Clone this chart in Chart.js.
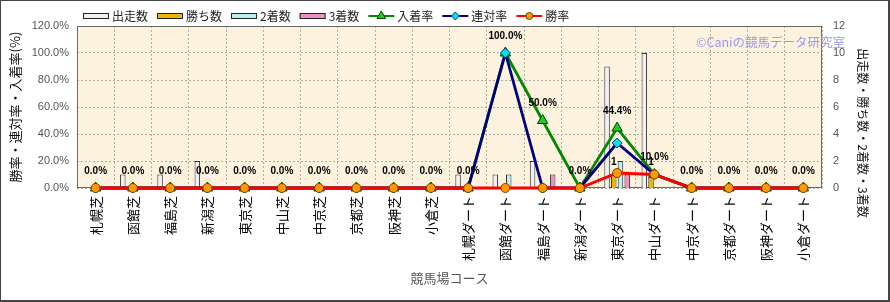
<!DOCTYPE html>
<html>
<head>
<meta charset="utf-8">
<script src="https://cdn.jsdelivr.net/npm/chart.js@4/dist/chart.umd.min.js"></script>
<style>
  html, body { margin: 0; padding: 0; background: #fff; }
  canvas { display: block; }
</style>
</head>
<body>
<canvas id="chart" width="890" height="302"></canvas>
<script>
// ── Data ──────────────────────────────────────────────────
const categories = ['札幌芝', '函館芝', '福島芝', '新潟芝', '東京芝', '中山芝', '中京芝', '京都芝', '阪神芝', '小倉芝',
                    '札幌ダート', '函館ダート', '福島ダート', '新潟ダート', '東京ダート', '中山ダート', '中京ダート', '京都ダート', '阪神ダート', '小倉ダート'];
const starts   = [0, 1, 1, 2, 0, 0, 0, 0, 0, 0, 1, 1, 2, 0, 9, 10, 0, 0, 0, 0];
const wins     = [0, 0, 0, 0, 0, 0, 0, 0, 0, 0, 0, 0, 0, 0, 1, 1, 0, 0, 0, 0];
const seconds  = [0, 0, 0, 0, 0, 0, 0, 0, 0, 0, 0, 1, 0, 0, 2, 0, 0, 0, 0, 0];
const thirds   = [0, 0, 0, 0, 0, 0, 0, 0, 0, 0, 0, 0, 1, 0, 1, 0, 0, 0, 0, 0];
const placeRate   = [0, 0, 0, 0, 0, 0, 0, 0, 0, 0, 0, 100, 50, 0, 44.4, 10, 0, 0, 0, 0];
const rentaiRate  = [0, 0, 0, 0, 0, 0, 0, 0, 0, 0, 0, 100, 0, 0, 33.3, 10, 0, 0, 0, 0];
const winRate     = [0, 0, 0, 0, 0, 0, 0, 0, 0, 0, 0, 0, 0, 0, 11.1, 10, 0, 0, 0, 0];

const rateMax = 120, rateStep = 20;
const countMax = 12, countStep = 2;

const JP  = '"Noto Sans CJK JP", sans-serif';
const LAT = '"Liberation Sans", Arial, sans-serif';
const GRID = '#b3ab9b';

// ── Plugins ───────────────────────────────────────────────
const backdrop = {
  id: 'backdrop',
  beforeDraw(chart) {
    const { ctx, chartArea: a } = chart;
    ctx.save();
    ctx.fillStyle = '#fff';
    ctx.fillRect(0, 0, chart.width, chart.height);
    ctx.fillStyle = '#fcf2de';
    ctx.fillRect(a.left, a.top, a.right - a.left, a.bottom - a.top);
    ctx.restore();
  },
  beforeDatasetsDraw(chart) {
    const { ctx, chartArea: a } = chart;
    ctx.save();
    ctx.strokeStyle = '#6a6a6a';
    ctx.lineWidth = 1;
    ctx.strokeRect(a.left + 0.5, a.top + 0.5, a.right - a.left - 1, a.bottom - a.top - 1);
    ctx.restore();
  }
};

const valueLabels = {
  id: 'valueLabels',
  afterDatasetsDraw(chart) {
    const ctx = chart.ctx;
    ctx.save();
    ctx.font = 'bold 10px ' + LAT;
    ctx.fillStyle = '#000';
    ctx.textAlign = 'center';
    ctx.textBaseline = 'middle';
    chart.getDatasetMeta(4).data.forEach((pt, i) => {
      ctx.fillText(placeRate[i].toFixed(1) + '%', pt.x, pt.y - 17);
    });
    chart.getDatasetMeta(1).data.forEach((bar, i) => {
      if (wins[i]) ctx.fillText(String(wins[i]), bar.x, bar.y - 12);
    });
    ctx.restore();
  }
};

const decorations = {
  id: 'decorations',
  afterDraw(chart) {
    const ctx = chart.ctx;
    const a = chart.chartArea;
    ctx.save();

    // legend
    let x = 83;
    const y = 16;
    ctx.font = '12px ' + JP;
    ctx.textBaseline = 'middle';
    ctx.textAlign = 'left';
    chart.data.datasets.forEach(ds => {
      if (ds.type === 'bar') {
        ctx.fillStyle = ds.backgroundColor;
        ctx.fillRect(x, y - 3, 26, 6);
        ctx.strokeStyle = '#222';
        ctx.lineWidth = 1;
        ctx.strokeRect(x + 0.5, y - 2.5, 25, 5);
      } else {
        ctx.strokeStyle = ds.borderColor;
        ctx.lineWidth = 2;
        ctx.beginPath();
        ctx.moveTo(x, y);
        ctx.lineTo(x + 26, y);
        ctx.stroke();
        ctx.fillStyle = ds.pointBackgroundColor;
        ctx.strokeStyle = ds.pointBorderColor;
        ctx.lineWidth = 1;
        Chart.helpers.drawPoint(ctx, { pointStyle: ds.pointStyle, radius: ds.pointRadius - 1, rotation: 0, borderWidth: 1 }, x + 13, y);
      }
      ctx.fillStyle = '#222';
      ctx.fillText(ds.label, x + 29, y);
      x += 29 + ctx.measureText(ds.label).width + 9;
    });

    // axis titles
    ctx.fillStyle = '#111';
    ctx.textAlign = 'center';
    ctx.font = '13px ' + JP;
    ctx.save();
    ctx.translate(15, (a.top + a.bottom) / 2);
    ctx.rotate(-Math.PI / 2);
    ctx.fillText('勝率・連対率・入着率(%)', 0, 0);
    ctx.restore();

    ctx.font = '12px ' + JP;
    ctx.save();
    ctx.translate(863, 133);
    ctx.rotate(Math.PI / 2);
    ctx.fillText('出走数・勝ち数・2着数・3着数', 0, 0);
    ctx.restore();

    ctx.fillStyle = '#555';
    ctx.font = '13px ' + JP;
    ctx.fillText('競馬場コース', (a.left + a.right) / 2, 278);

    // watermark
    ctx.fillStyle = '#9a9aee';
    ctx.textAlign = 'right';
    ctx.font = '12.5px ' + JP;
    ctx.fillText('©Caniの競馬データ研究室', 845, 42);

    // outer frame
    ctx.fillStyle = '#444';
    ctx.fillRect(0, 0, chart.width, 1);
    ctx.fillRect(0, 0, 1, chart.height);
    ctx.fillRect(chart.width - 2, 0, 2, chart.height);
    ctx.fillRect(0, chart.height - 2, chart.width, 2);
    ctx.restore();
  }
};

// ── Chart ─────────────────────────────────────────────────
const barBorder = c => (c.raw ? 1 : 0);

new Chart(document.getElementById('chart'), {
  type: 'bar',
  data: {
    labels: categories,
    datasets: [
      { type: 'bar', label: '出走数', data: starts,  yAxisID: 'y2', backgroundColor: '#f0f0f0', borderColor: '#333', borderWidth: barBorder, order: 3 },
      { type: 'bar', label: '勝ち数', data: wins,    yAxisID: 'y2', backgroundColor: '#f0b400', borderColor: '#333', borderWidth: barBorder, order: 3 },
      { type: 'bar', label: '2着数',  data: seconds, yAxisID: 'y2', backgroundColor: '#bdeef0', borderColor: '#333', borderWidth: barBorder, order: 3 },
      { type: 'bar', label: '3着数',  data: thirds,  yAxisID: 'y2', backgroundColor: '#ee92c2', borderColor: '#333', borderWidth: barBorder, order: 3 },
      { type: 'line', label: '入着率', data: placeRate, yAxisID: 'y', borderColor: '#008a00', borderWidth: 2.8,
        pointStyle: 'triangle', pointRadius: 6, pointBackgroundColor: '#22cc22', pointBorderColor: '#004400', pointBorderWidth: 1,
        tension: 0, clip: false, order: 2 },
      { type: 'line', label: '連対率', data: rentaiRate, yAxisID: 'y', borderColor: '#000080', borderWidth: 2.8,
        pointStyle: 'rectRot', pointRadius: 5, pointBackgroundColor: '#00e0f0', pointBorderColor: '#004060', pointBorderWidth: 1,
        tension: 0, clip: false, order: 1 },
      { type: 'line', label: '勝率', data: winRate, yAxisID: 'y', borderColor: '#ff0000', borderWidth: 2.8,
        pointStyle: 'circle', pointRadius: 4.5, pointBackgroundColor: '#ff9900', pointBorderColor: '#7a4000', pointBorderWidth: 1,
        tension: 0, clip: false, order: 0 }
    ]
  },
  options: {
    responsive: false,
    animation: false,
    layout: { padding: { top: 26, left: 0, right: 0, bottom: 0 } },
    datasets: { bar: { categoryPercentage: 0.72, barPercentage: 0.82 } },
    plugins: { legend: { display: false }, tooltip: { enabled: false } },
    scales: {
      x: {
        offset: true,
        grid: { offset: true, color: GRID, drawTicks: false },
        border: { display: false, dash: [2, 2] },
        ticks: { color: '#000', font: { family: JP, size: 13 }, minRotation: 90, maxRotation: 90, padding: 8, autoSkip: false },
        afterFit(s) { s.height = 114; }
      },
      y: {
        position: 'left',
        min: 0, max: rateMax,
        grid: { color: GRID, drawTicks: false },
        border: { display: false, dash: [2, 2] },
        ticks: { stepSize: rateStep, color: '#555', font: { family: LAT, size: 11 }, padding: 8,
                 callback: v => v.toFixed(1) + '%' },
        afterFit(s) { s.width = 77; }
      },
      y2: {
        position: 'right',
        min: 0, max: countMax,
        grid: { display: false, drawTicks: false },
        border: { display: false },
        ticks: { stepSize: countStep, color: '#555', font: { family: LAT, size: 11 }, padding: 11 },
        afterFit(s) { s.width = 68; }
      }
    }
  },
  plugins: [backdrop, valueLabels, decorations]
});
</script>
</body>
</html>
